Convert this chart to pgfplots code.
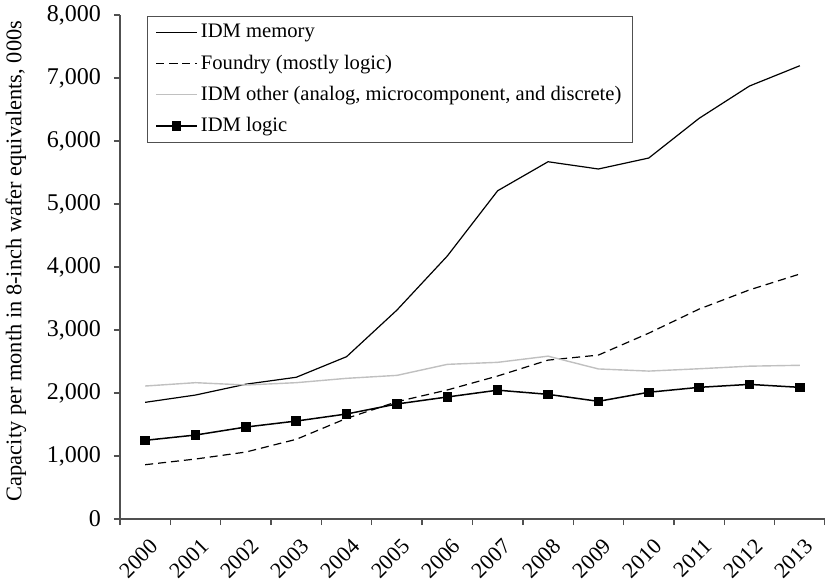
\documentclass[border=0pt]{standalone}
\usepackage{fontspec}
\setmainfont{Liberation Serif}
\usepackage{pgfplots}
\pgfplotsset{compat=1.18}

\definecolor{othergray}{RGB}{192,192,192}
\definecolor{axisgray}{RGB}{80,80,80}

\begin{document}
\begin{tikzpicture}
\useasboundingbox (-60pt,-33.5pt) rectangle (352.5pt,259.5pt);
\begin{axis}[
  at={(0,0)}, anchor=south west,
  scale only axis, width=352.5pt, height=252pt,
  xmin=-0.5, xmax=13.5, ymin=0, ymax=8000,
  axis x line*=bottom, axis y line*=left,
  axis line style={axisgray, line width=0.7pt},
  tick align=outside, major tick length=3pt,
  tick style={axisgray, line width=0.7pt},
  ytick={0,1000,...,8000},
  /pgf/number format/.cd, 1000 sep={,}, assume math mode=true, /pgfplots/.cd,
  yticklabel style={font=\fontsize{12}{14}\selectfont, xshift=-3pt},
  xtick={-0.5,0.5,...,13.5}, xticklabels={},
  extra x ticks={0,1,...,13},
  extra x tick labels={2000,2001,2002,2003,2004,2005,2006,2007,2008,2009,2010,2011,2012,2013},
  extra x tick style={major tick length=0pt,
    xticklabel style={font=\fontsize{11}{13}\selectfont, inner sep=0pt,
      xshift=2pt, yshift=-9pt, rotate=45, anchor=north east}},
  ylabel={Capacity per month in 8-inch wafer equivalents, 000s},
  every axis y label/.style={at={(axis description cs:-0.1475,0.512)},
    rotate=90, anchor=center, font=\fontsize{11.2}{13}\selectfont},
  legend cell align=left,
  legend style={at={(axis description cs:0.038,0.998)}, anchor=north west,
    draw=axisgray, line width=0.7pt, font=\fontsize{10.3}{12}\selectfont,
    row sep=3pt, inner xsep=4pt, inner ysep=1.8pt,
    nodes={inner xsep=1.5pt}},
  legend image code/.code={\draw[mark repeat=2,mark phase=2]
    plot coordinates {(0cm,0cm) (0.36cm,0cm) (0.72cm,0cm)};},
]
% IDM memory
\addplot[black, line width=0.6pt] coordinates {
  (0,1852) (1,1968) (2,2140) (3,2250) (4,2577) (5,3317) (6,4175)
  (7,5211) (8,5671) (9,5556) (10,5730) (11,6360) (12,6873) (13,7195)};
\addlegendentry{IDM memory}
% Foundry
\addplot[black, line width=0.6pt, dash pattern=on 4pt off 2.5pt] coordinates {
  (0,862) (1,952) (2,1063) (3,1265) (4,1598) (5,1862) (6,2048)
  (7,2270) (8,2522) (9,2602) (10,2950) (11,3332) (12,3637) (13,3889)};
\addlegendentry{Foundry (mostly logic)}
% IDM other
\addplot[othergray, line width=0.7pt] coordinates {
  (0,2111) (1,2164) (2,2127) (3,2164) (4,2233) (5,2280) (6,2455)
  (7,2487) (8,2585) (9,2382) (10,2348) (11,2385) (12,2426) (13,2440)};
\addlegendentry{IDM other (analog, microcomponent, and discrete)}
% IDM logic
\addplot[black, line width=0.75pt, mark=square*, mark size=2pt,
  mark options={solid, fill=black}] coordinates {
  (0,1249) (1,1333) (2,1460) (3,1555) (4,1667) (5,1826) (6,1937)
  (7,2045) (8,1979) (9,1868) (10,2012) (11,2090) (12,2137) (13,2090)};
\addlegendentry{IDM logic}
\end{axis}
\end{tikzpicture}
\end{document}
